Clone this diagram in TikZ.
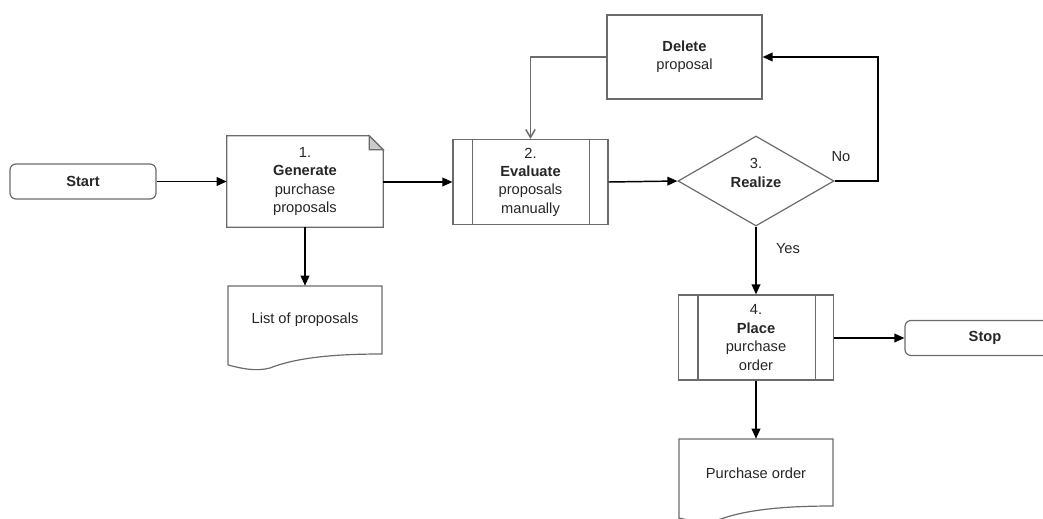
\documentclass[tikz,border=0pt]{standalone}
\usepackage{fontspec}
\setmainfont{Liberation Sans}
\usetikzlibrary{arrows.meta, shapes.geometric}

\definecolor{edge}{HTML}{6B6B6B}
\definecolor{ink}{HTML}{262626}

\tikzset{
  base/.style={draw=edge, line width=0.9pt, text=ink, align=center,
    font=\fontsize{11pt}{13.8pt}\selectfont, inner sep=0pt},
  terminal/.style={base, rounded corners=4.5pt, minimum width=109.5pt, minimum height=26.25pt},
  process/.style={base, minimum width=116.25pt, minimum height=63.75pt},
  plainbox/.style={base, minimum width=116.25pt, minimum height=63pt},
  decision/.style={base, diamond, aspect=1.73, minimum width=117pt, minimum height=67.5pt},
  textonly/.style={text=ink, align=center, font=\fontsize{11pt}{13.8pt}\selectfont, inner sep=0pt},
  flow/.style={draw=black, line width=1.1pt, -{Triangle[length=7.5pt, width=6.5pt]}},
  backflow/.style={draw=edge, line width=1.1pt, -{Straight Barb[length=6pt, width=7pt]}},
  outline/.style={draw=edge, line width=0.9pt},
}

\begin{document}
\begin{tikzpicture}[x=0.75pt, y=-0.75pt]
  \useasboundingbox (0,0) rectangle (1043,518);

  % terminals
  \node[terminal] (start) at (83,181.5) {\textbf{Start}};
  \node[terminal, minimum width=120pt] (stop) at (985,338) {\textbf{Stop}};

  % step 1: sheet with a folded corner
  \node[textonly, minimum width=117pt, minimum height=68.25pt] (gen) at (305,181.5)
    {1.\\\textbf{Generate}\\purchase\\proposals};
  \draw[outline] (gen.north west) -- ([xshift=-10.5pt]gen.north east)
    -- ([yshift=-10.5pt]gen.north east) -- (gen.south east) -- (gen.south west) -- cycle;
  \draw[outline, fill=edge!35] ([xshift=-10.5pt]gen.north east)
    -- ([xshift=-10.5pt, yshift=-10.5pt]gen.north east) -- ([yshift=-10.5pt]gen.north east) -- cycle;

  % step 2: predefined process
  \node[process] (eval) at (530.5,182) {2.\\\textbf{Evaluate}\\proposals\\manually};
  \draw[outline] ([xshift=15pt]eval.north west) -- ([xshift=15pt]eval.south west);
  \draw[outline] ([xshift=-14.25pt]eval.north east) -- ([xshift=-14.25pt]eval.south east);

  % delete
  \node[plainbox] (del) at (684.5,57) {\textbf{Delete}\\proposal};

  % step 3: decision
  \node[decision] (real) at (756,181) {};
  \node[textonly] (realtxt) at (756,173) {3.\\\textbf{Realize}};

  % step 4: predefined process
  \node[process] (place) at (756,337.5) {4.\\\textbf{Place}\\purchase\\order};
  \draw[outline] ([xshift=15pt]place.north west) -- ([xshift=15pt]place.south west);
  \draw[outline] ([xshift=-14.25pt]place.north east) -- ([xshift=-14.25pt]place.south east);

  % documents
  \node[textonly, minimum width=115.5pt, minimum height=51pt] (list) at (305,320) {List of proposals};
  \draw[outline] (228,365) -- (228,286) -- (382,286) -- (382,354)
    .. controls (345,354) and (300,356) .. (270,368)
    .. controls (255,372) and (240,368) .. (228,365);

  \node[textonly, minimum width=115.5pt, minimum height=51.75pt] (po) at (756,473.5) {Purchase order};
  \draw[outline] (679,520) -- (679,439) -- (833,439) -- (833,506)
    .. controls (796,506) and (751,508) .. (721,519)
    .. controls (706,523) and (691,521) .. (679,518);

  % connectors
  \draw[flow] (start.east) -- (gen.west);
  \draw[flow] (gen.south) -- (list.north);
  \draw[flow] (gen.east |- eval.west) -- (eval.west);
  \draw[flow] (eval.east) -- (real.west);
  \coordinate (turn) at (878,181);
  \draw[flow] (real.east) -- (turn) -- (turn |- del.east) -- (del.east);
  \draw[backflow] (del.west) -| (eval.north);
  \draw[flow] (real.south) -- (place.north);
  \draw[flow] (place.east |- stop.west) -- (stop.west);
  \draw[flow] (place.south) -- (po.north);

  % branch labels
  \node[textonly] (nolbl) at (841,157) {No};
  \node[textonly] (yeslbl) at (788,249) {Yes};
\end{tikzpicture}
\end{document}
